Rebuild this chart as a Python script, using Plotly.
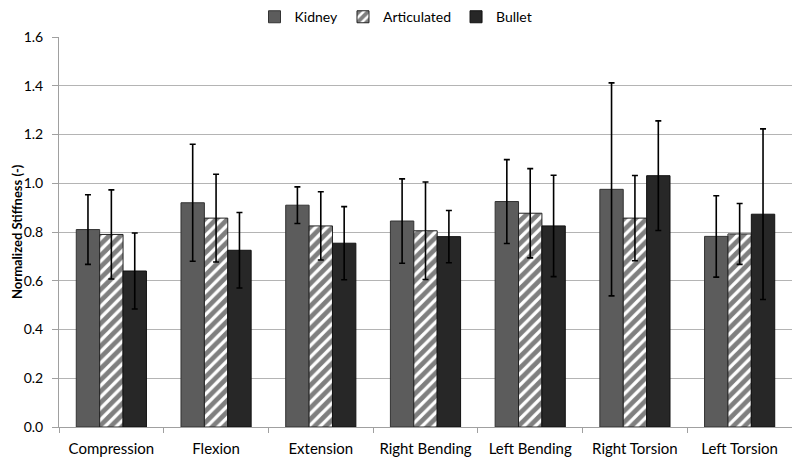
import plotly.graph_objects as go

categories = ["Compression", "Flexion", "Extension", "Right Bending", "Left Bending", "Right Torsion", "Left Torsion"]
kidney = [0.81, 0.92, 0.91, 0.845, 0.925, 0.975, 0.782]
kidney_err = [0.143, 0.24, 0.075, 0.173, 0.172, 0.437, 0.167]
articulated = [0.79, 0.857, 0.825, 0.805, 0.877, 0.857, 0.792]
articulated_err = [0.183, 0.18, 0.14, 0.2, 0.183, 0.175, 0.125]
bullet = [0.64, 0.725, 0.754, 0.781, 0.825, 1.031, 0.873]
bullet_err = [0.156, 0.155, 0.15, 0.107, 0.208, 0.225, 0.35]
y_ticks = [0.0, 0.2, 0.4, 0.6, 0.8, 1.0, 1.2, 1.4, 1.6]

font_family = "Lato, Open Sans, sans-serif"

def err(vals):
    return dict(type="data", array=vals, visible=True, color="black", thickness=1.6, width=3)

fig = go.Figure()
fig.add_trace(go.Bar(
    name="Kidney", x=categories, y=kidney, error_y=err(kidney_err),
    marker=dict(color="#5c5c5c", line=dict(color="#333333", width=1)),
))
fig.add_trace(go.Bar(
    name="Articulated", x=categories, y=articulated, error_y=err(articulated_err),
    marker=dict(color="white", line=dict(color="#222222", width=1),
                pattern=dict(shape="/", fgcolor="black", bgcolor="white", size=8, solidity=0.6)),
))
fig.add_trace(go.Bar(
    name="Bullet", x=categories, y=bullet, error_y=err(bullet_err),
    marker=dict(color="#272727", line=dict(color="#111111", width=1)),
))

fig.update_layout(
    width=800, height=458,
    barmode="group", bargap=0.33, bargroupgap=0.0,
    plot_bgcolor="white", paper_bgcolor="white",
    margin=dict(l=51, r=16, t=29, b=39, autoexpand=False),
    font=dict(family=font_family, size=13, color="black"),
    legend=dict(orientation="h", xref="container", x=0.485, xanchor="center",
                yref="container", y=0.98, yanchor="middle",
                font=dict(size=14), itemwidth=30, traceorder="normal", tracegroupgap=0),
    showlegend=True,
    annotations=[dict(
        text="<b>Normalized Stiffness (-)</b>", textangle=-90,
        xref="paper", yref="paper", x=-(51 - 9) / 733, y=0.5,
        xanchor="center", yanchor="middle", showarrow=False,
        font=dict(size=13, family=font_family, color="black"),
    )],
)
fig.update_xaxes(
    showline=True, linecolor="#a0a0a0", linewidth=1, automargin=False,
    ticks="outside", tickson="boundaries", ticklen=5, tickcolor="#a0a0a0",
    ticklabelstandoff=8,
    tickfont=dict(size=15), showgrid=False,
)
fig.update_yaxes(
    range=[0, 1.6], tickvals=y_ticks, ticktext=[f"{v:.1f}" for v in y_ticks],
    showline=True, linecolor="#a0a0a0", linewidth=1, automargin=False,
    ticks="outside", ticklen=6, tickcolor="#a0a0a0", ticklabelstandoff=6,
    showgrid=True, gridcolor="#b4b4b4", gridwidth=1,
    tickfont=dict(size=14), zeroline=False,
)

fig.write_html("out.html")
